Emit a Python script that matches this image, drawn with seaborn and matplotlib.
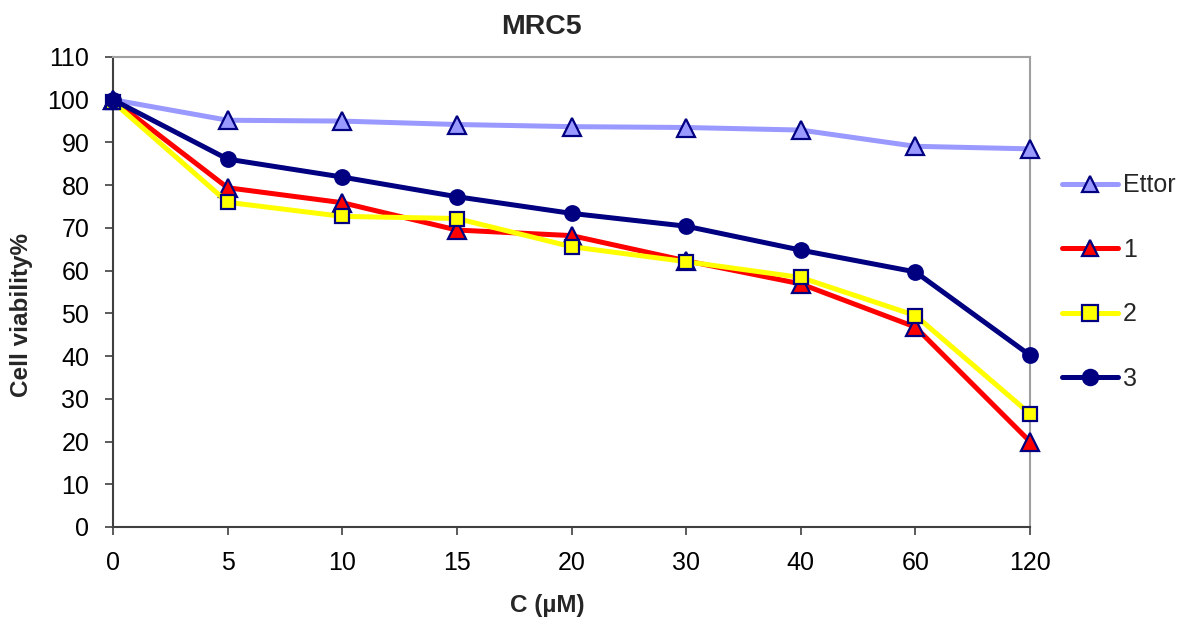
import matplotlib
matplotlib.use("Agg")
import matplotlib.pyplot as plt
import seaborn as sns
import numpy as np
import pandas as pd

categories = ["0", "5", "10", "15", "20", "30", "40", "60", "120"]
ettor = [100, 95.2, 95.0, 94.2, 93.7, 93.5, 92.9, 89.1, 88.5]
s1 = [100, 79.4, 75.9, 69.5, 68.2, 62.3, 56.9, 46.8, 20.0]
s2 = [99.5, 76.0, 72.7, 72.2, 65.6, 62.1, 58.4, 49.5, 26.5]
s3 = [100, 86.1, 81.9, 77.3, 73.4, 70.4, 64.8, 59.7, 40.2]
series_names = ["Ettor", "1", "2", "3"]
y_ticks = list(range(0, 111, 10))

sns.set_theme(style="white")
plt.rcParams['font.family'] = ['Liberation Sans', 'DejaVu Sans']

fig = plt.figure(figsize=(11.91, 6.26), dpi=100)
ax = fig.add_axes([113/1191, 1-527/626, (1030-113)/1191, (527-57)/626])

pos = np.arange(len(categories))
styles = [
    dict(color="#9999FF", marker="^", mfc="#9999FF", ms=13.5),
    dict(color="#FF0000", marker="^", mfc="#FF0000", ms=13.5),
    dict(color="#FFFF00", marker="s", mfc="#FFFF00", ms=10),
    dict(color="#000080", marker="o", mfc="#000080", ms=10.5),
]
data = [ettor, s1, s2, s3]
for name, vals, st in zip(series_names, data, styles):
    df = pd.DataFrame({"x": pos, "y": vals})
    sns.lineplot(data=df, x="x", y="y", ax=ax, color=st["color"], lw=3.6,
                 marker=st["marker"], markersize=st["ms"], markerfacecolor=st["mfc"],
                 markeredgecolor="#000080", markeredgewidth=1.6, label=name,
                 clip_on=False, zorder=3)

ax.set_xlim(0, len(categories) - 1)
ax.set_ylim(0, 110)
ax.set_xticks(pos)
ax.set_xticklabels(categories)
ax.set_yticks(y_ticks)
ax.tick_params(axis="both", labelsize=18, direction="out", length=6, width=1.2, color="#404040",
               labelcolor="#000000")
ax.tick_params(axis="y", pad=11)
ax.tick_params(axis="x", pad=11)
ax.tick_params(left=True, bottom=True)
for sp in ["left", "bottom"]:
    ax.spines[sp].set_color("#404040")
    ax.spines[sp].set_linewidth(1.5)
for sp in ["top", "right"]:
    ax.spines[sp].set_color("#A0A0A0")
    ax.spines[sp].set_linewidth(1.5)
ax.set_xlabel("")
ax.set_ylabel("")

fig.text(541/1191, 1-34/626, "MRC5", ha="center", va="baseline", fontsize=20.5, fontweight="bold")
fig.text(547/1191, 1-612/626, "C (µM)", ha="center", va="baseline", fontsize=17.5, fontweight="bold")
fig.text(22/1191, 1-315/626, "Cell viability%", ha="center", va="center", fontsize=17.5,
         fontweight="bold", rotation=90)

leg = ax.legend(loc="center left", bbox_to_anchor=(1062/1191, 1-282/626), bbox_transform=fig.transFigure,
                frameon=False, fontsize=18, handlelength=2.25, handletextpad=0.2, labelspacing=1.62,
                borderaxespad=0, borderpad=0)
for h in leg.legend_handles:
    h.set_markersize(11)

fig.savefig("out.png", dpi=100)
